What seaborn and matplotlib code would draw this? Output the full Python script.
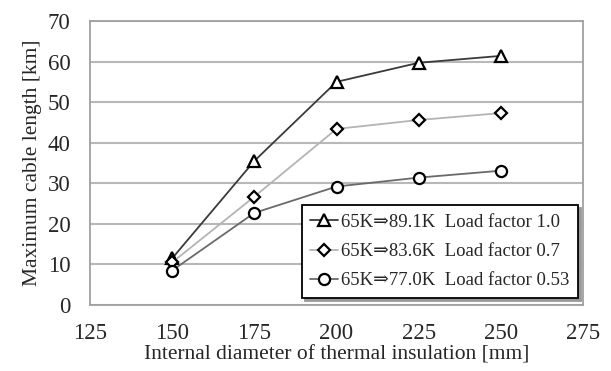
import matplotlib
matplotlib.use("Agg")
import matplotlib.pyplot as plt
import seaborn as sns
import pandas as pd

# Internal diameter of thermal insulation [mm]
diameters = [150, 175, 200, 225, 250]

# Maximum cable length [km] for each temperature rise / load factor case
length_lf_100 = [11.5, 35.5, 55.0, 59.7, 61.4]
length_lf_070 = [10.5, 26.7, 43.4, 45.6, 47.3]
length_lf_053 = [8.5, 22.7, 29.2, 31.4, 33.1]

series_labels = [
    "65K\u21d289.1K  Load factor 1.0",
    "65K\u21d283.6K  Load factor 0.7",
    "65K\u21d277.0K  Load factor 0.53",
]

x_ticks = [125, 150, 175, 200, 225, 250, 275]
y_ticks = [0, 10, 20, 30, 40, 50, 60, 70]

sns.set_theme(style="white")
plt.rcParams["font.family"] = ["Liberation Serif", "DejaVu Serif"]

fig, ax = plt.subplots(figsize=(6.11, 3.71), dpi=100)
fig.subplots_adjust(left=90 / 611, right=583 / 611, top=1 - 21 / 371, bottom=1 - 305 / 371)

series = [
    (length_lf_100, series_labels[0], "^", "#3a3a3a"),
    (length_lf_070, series_labels[1], "D", "#b4b4b4"),
    (length_lf_053, series_labels[2], "o", "#6a6a6a"),
]
sizes = {"^": 8, "D": 6, "o": 8}

for values, label, marker, color in series:
    df = pd.DataFrame({"d": diameters, "L": values})
    sns.lineplot(
        data=df, x="d", y="L", ax=ax, color=color, linewidth=1.3,
        marker=marker, markersize=sizes[marker], markerfacecolor="white",
        markeredgecolor="black", markeredgewidth=1.6, label=label,
    )

ax.set_xlim(125, 275)
ax.set_ylim(0, 70)
ax.set_xticks(x_ticks)
ax.set_yticks(y_ticks)
ax.yaxis.grid(True, color="#b8b8b8", linewidth=1.5)
ax.xaxis.grid(False)
ax.set_axisbelow(True)

for side in ["left", "bottom", "right", "top"]:
    ax.spines[side].set_color("#a0a0a0")
    ax.spines[side].set_linewidth(1.3)

ax.tick_params(axis="x", direction="in", length=6, width=1, color="#909090",
               labelsize=16.5, pad=13)
ax.tick_params(axis="y", length=0, labelsize=16.5, pad=14)

ax.set_xlabel("Internal diameter of thermal insulation [mm]", fontsize=15.5, labelpad=1)
ax.set_ylabel("Maximum cable length [km]", fontsize=15.5, labelpad=4)

leg = ax.legend(
    loc="lower right", bbox_to_anchor=(0.99, 0.025), fontsize=13.5,
    frameon=True, fancybox=False, shadow={"color": "#999999", "alpha": 1},
    handlelength=1.5, handletextpad=0.15, borderpad=0.45, labelspacing=0.65,
    borderaxespad=0,
)
leg.get_frame().set_edgecolor("black")
leg.get_frame().set_linewidth(1.3)
leg.get_frame().set_alpha(1)

fig.savefig("out.png", dpi=100)
